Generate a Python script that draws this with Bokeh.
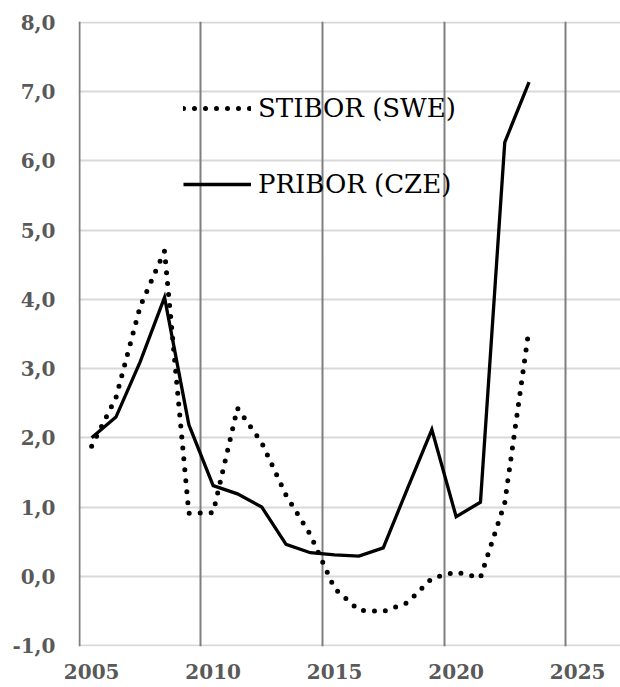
from bokeh.plotting import figure
from bokeh.models import (ColumnDataSource, Range1d, FixedTicker, CustomJSTickFormatter,
                          Legend, LegendItem)
from bokeh.embed import file_html
from bokeh.resources import INLINE

# ---- data (annual averages, %), plotted at mid-year ----
years = [2005, 2006, 2007, 2008, 2009, 2010, 2011, 2012, 2013, 2014,
         2015, 2016, 2017, 2018, 2019, 2020, 2021, 2022, 2023]
stibor = [1.88, 2.58, 3.90, 4.70, 0.91, 0.92, 2.43, 1.93, 1.17, 0.60,
          -0.18, -0.49, -0.51, -0.38, -0.03, 0.06, -0.02, 1.06, 3.58]
pribor = [2.00, 2.30, 3.10, 4.03, 2.19, 1.31, 1.19, 1.00, 0.46, 0.34,
          0.31, 0.29, 0.41, 1.27, 2.12, 0.86, 1.07, 6.27, 7.14]
x_ticks = [2005, 2010, 2015, 2020, 2025]
y_ticks = [-1, 0, 1, 2, 3, 4, 5, 6, 7, 8]
labels = ["STIBOR (SWE)", "PRIBOR (CZE)"]

src = ColumnDataSource(dict(x=[y + 0.5 for y in years], stibor=stibor, pribor=pribor))

p = figure(width=620, height=687,
           x_range=Range1d(2004.959, 2027.263), y_range=Range1d(-1.015, 8.015),
           output_backend="svg", toolbar_location=None,
           min_border_left=78, min_border_top=21, min_border_right=0, min_border_bottom=41)
p.outline_line_color = None
p.background_fill_color = "white"
p.border_fill_color = "white"

# grids
p.xgrid.ticker = FixedTicker(ticks=x_ticks)
p.xgrid.grid_line_color = "#7f7f7f"
p.xgrid.grid_line_width = 2
p.ygrid.ticker = FixedTicker(ticks=y_ticks)
p.ygrid.grid_line_color = "#d9d9d9"
p.ygrid.grid_line_width = 1.8
p.ygrid.level = "image"

# axes
for ax in (p.xaxis[0], p.yaxis[0]):
    ax.axis_line_color = None
    ax.major_tick_line_color = None
    ax.minor_tick_line_color = None
    ax.major_tick_out = 0
    ax.major_tick_in = 0
    ax.minor_tick_out = 0
    ax.major_label_text_font = "DejaVu Serif"
    ax.major_label_text_font_style = "bold"
    ax.major_label_text_font_size = "20px"
    ax.major_label_text_color = "#595959"

p.xaxis.ticker = FixedTicker(ticks=[t + 0.5 for t in x_ticks])
p.xaxis.formatter = CustomJSTickFormatter(code="return String(Math.round(tick - 0.5));")
p.xaxis.major_label_standoff = 17
p.yaxis.ticker = FixedTicker(ticks=y_ticks)
p.yaxis.formatter = CustomJSTickFormatter(code="return tick.toFixed(1).replace('.', ',');")
p.yaxis.major_label_standoff = 23

r_st = p.line("x", "stibor", source=src, line_color="black", line_width=5,
              line_dash="0 11", line_cap="round", line_join="round")
r_pr = p.line("x", "pribor", source=src, line_color="black", line_width=3.3,
              line_join="miter")

legend = Legend(items=[LegendItem(label=labels[0], renderers=[r_st]),
                       LegendItem(label=labels[1], renderers=[r_pr])],
                location=(105, 442), glyph_width=68, glyph_height=40, label_height=40,
                spacing=36, label_standoff=7, padding=0, margin=0,
                border_line_color=None, background_fill_alpha=0,
                label_text_font="DejaVu Serif", label_text_font_size="26px",
                label_text_color="black")
p.add_layout(legend)

open("out.html", "w").write(file_html(p, INLINE))
